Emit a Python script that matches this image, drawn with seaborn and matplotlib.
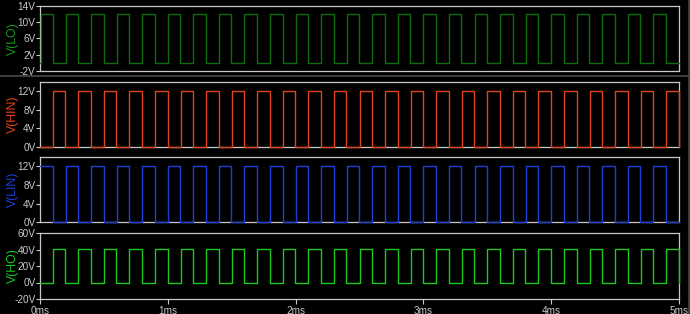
import matplotlib
matplotlib.use("Agg")
import matplotlib.pyplot as plt
import seaborn as sns
import pandas as pd

sns.set_theme(style="dark")
plt.rcParams['font.family'] = ['Liberation Sans', 'DejaVu Sans']

# ---- data (times in ms) ----
t_end = 5.0
lin_rise = [0.00, 0.20, 0.40, 0.60, 0.80, 1.00, 1.20, 1.40, 1.60, 1.80,
            2.00, 2.20, 2.40, 2.60, 2.80, 3.00, 3.20, 3.40, 3.60, 3.80,
            4.00, 4.20, 4.40, 4.60, 4.80]
lin_fall = [0.098, 0.298, 0.498, 0.698, 0.898, 1.098, 1.298, 1.498, 1.698, 1.898,
            2.098, 2.298, 2.498, 2.698, 2.898, 3.098, 3.298, 3.498, 3.698, 3.898,
            4.098, 4.298, 4.498, 4.698, 4.898]
lo_rise = [0.008, 0.20, 0.40, 0.60, 0.80, 1.00, 1.20, 1.40, 1.60, 1.80,
           2.00, 2.20, 2.40, 2.60, 2.80, 3.00, 3.20, 3.40, 3.60, 3.80,
           4.00, 4.20, 4.40, 4.60, 4.80]
lo_fall = lin_fall
hin_rise = [0.10, 0.30, 0.50, 0.70, 0.90, 1.10, 1.30, 1.50, 1.70, 1.90,
            2.10, 2.30, 2.50, 2.70, 2.90, 3.10, 3.30, 3.50, 3.70, 3.90,
            4.10, 4.30, 4.50, 4.70, 4.90]
hin_fall = [0.198, 0.398, 0.598, 0.798, 0.998, 1.198, 1.398, 1.598, 1.798, 1.998,
            2.198, 2.398, 2.598, 2.798, 2.998, 3.198, 3.398, 3.598, 3.798, 3.998,
            4.198, 4.398, 4.598, 4.798, 5.0]
ho_rise = hin_rise
ho_fall = hin_fall

lo_high, hin_high, lin_high, ho_high = 12.0, 12.0, 12.0, 41.0

names = ["V(LO)", "V(HIN)", "V(LIN)", "V(HO)"]
line_colors = ["#0b6e0b", "#e0441a", "#1f40d8", "#1ec81e"]
label_colors = ["#169a16", "#e0441a", "#1f40d8", "#1ec81e"]
ylims = [(-2, 14), (0, 14), (0, 14), (-20, 60)]
yticks = [[-2, 2, 6, 10, 14], [0, 4, 8, 12], [0, 4, 8, 12], [-20, 0, 20, 40, 60]]
xticks = [0, 1, 2, 3, 4, 5]
xtick_labels = ["0ms", "1ms", "2ms", "3ms", "4ms", "5ms"]


def pulses(rise, fall, high, start_val=0.0):
    t, v = [0.0], [start_val]
    for r, f in zip(rise, fall):
        t += [r, f]
        v += [high, 0.0]
    if t[-1] < t_end:
        t.append(t_end)
        v.append(v[-1])
    return pd.DataFrame({"t": t, "v": v})


frames = [
    pulses(lo_rise, lo_fall, lo_high, 0.0),
    pulses(hin_rise, hin_fall, hin_high, 0.0),
    pulses(lin_rise, lin_fall, lin_high, lin_high),
    pulses(ho_rise, ho_fall, ho_high, 0.0),
]

W, H = 690, 314
fig = plt.figure(figsize=(W / 100, H / 100), dpi=100, facecolor="black")
left, right = 40 / W, 679 / W
boxes = [(5.7, 71.0), (81.7, 146.7), (156.7, 222.3), (233.0, 299.0)]
gray = "#c8c8c8"

for i, (df, (ytop, ybot)) in enumerate(zip(frames, boxes)):
    ax = fig.add_axes([left, 1 - ybot / H, right - left, (ybot - ytop) / H])
    ax.set_facecolor("black")
    sns.lineplot(data=df, x="t", y="v", ax=ax, color=line_colors[i], linewidth=1.0,
                 drawstyle="steps-post", sort=False, estimator=None, zorder=3)
    for l in ax.lines:
        l.set_clip_on(False)
    ax.set_xlim(0, t_end)
    ax.set_ylim(*ylims[i])
    ax.set_yticks(yticks[i])
    ax.set_yticklabels([f"{y}V" for y in yticks[i]], color=gray, fontsize=7.2)
    ax.tick_params(axis="y", direction="out", length=3, width=0.8, color=gray, pad=0.3, left=True)
    if i == 3:
        ax.set_xticks(xticks)
        ax.set_xticklabels(xtick_labels, color=gray, fontsize=7.2)
        ax.tick_params(axis="x", direction="out", length=3.5, width=0.8, color=gray, pad=1.2, bottom=True)
    else:
        ax.set_xticks([])
    ax.set_xlabel("")
    ax.set_ylabel(names[i], color=label_colors[i], fontsize=8.8)
    ax.yaxis.set_label_coords(-21 / (W * (right - left)), 0.5)
    ax.grid(False)
    for s in ax.spines.values():
        s.set_visible(True)
        s.set_color(gray)
        s.set_linewidth(0.9)
        s.set_zorder(2)

# pane separator and border
fig.add_artist(plt.Line2D([0, 1], [1 - 76 / H, 1 - 76 / H], color="#4a4a4a", linewidth=1.2,
                          transform=fig.transFigure))
fig.add_artist(plt.Line2D([688.5 / W, 688.5 / W], [0, 1], color="#4a4a4a", linewidth=1.2,
                          transform=fig.transFigure))

fig.savefig("out.png", dpi=100, facecolor="black")
